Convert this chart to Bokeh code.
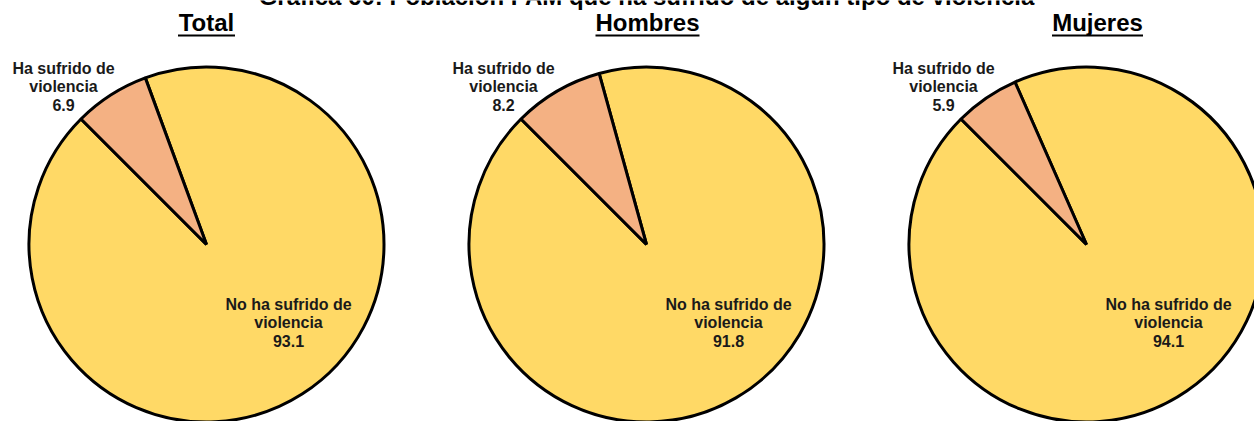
from bokeh.plotting import figure
from bokeh.models import Range1d, ColumnDataSource
from bokeh.core.properties import value
from bokeh.embed import file_html
from bokeh.resources import INLINE

# ---- data ----
title_text = "Gráfica 60: Población PAM que ha sufrido de algún tipo de violencia"
groups = ["Total", "Hombres", "Mujeres"]
ha_sufrido = [6.9, 8.2, 5.9]
no_ha_sufrido = [93.1, 91.8, 94.1]
cat_ha = ["Ha sufrido de", "violencia"]
cat_no = ["No ha sufrido de", "violencia"]

# ---- layout (picture pixel coordinates; y flipped) ----
W, H = 1254, 421
p = figure(width=W, height=H, output_backend="svg", toolbar_location=None,
           x_range=Range1d(0, W), y_range=Range1d(-H, 0),
           min_border=0, outline_line_color=None)
p.axis.visible = False
p.grid.visible = False
p.background_fill_color = "white"

FONT = value("Liberation Sans")
YELLOW = "#FFD966"
PEACH = "#F4B183"
TXT = "#1a1a1a"


def base(b, size):
    # anchor so that the rendered baseline lands at pixel row b
    return -(b - 0.42 * size)


cx0, dx, cy = 206, 440, 244
R = 177.5
first_angle = 135.0  # boundary at 45 deg CCW from 12 o'clock

# title (top cut off as in the reference)
p.text(x=[646], y=[base(6, 24)], text=[title_text], text_font=FONT,
       text_font_style="bold", text_font_size="24px", text_align="center",
       text_baseline="alphabetic", text_color="black")

sub_cx = [206, 647, 1097]
sub_w = [57, 104, 91]
for i, g in enumerate(groups):
    cx = cx0 + i * dx
    ha, no = ha_sufrido[i], no_ha_sufrido[i]
    start_ha = first_angle - 360 * ha / 100.0
    end_no = first_angle + 360 * no / 100.0
    src = ColumnDataSource(dict(
        x=[cx, cx], y=[-cy, -cy],
        start=[first_angle, start_ha],
        end=[end_no, first_angle],
        color=[YELLOW, PEACH]))
    p.wedge(x="x", y="y", radius=R, start_angle="start", end_angle="end",
            start_angle_units="deg", end_angle_units="deg",
            fill_color="color", line_color="black",
            line_width=3, source=src)

    # subtitle with underline
    p.text(x=[sub_cx[i]], y=[base(32, 24)], text=[g], text_font=FONT,
           text_font_style="bold", text_font_size="24px", text_align="center",
           text_baseline="alphabetic", text_color="black")
    p.segment(x0=[sub_cx[i] - sub_w[i] / 2], x1=[sub_cx[i] + sub_w[i] / 2],
              y0=[-35], y1=[-35], line_color="black", line_width=2)

    # "Ha sufrido" label
    lines_ha = cat_ha + [f"{ha:.1f}"]
    for k, t in enumerate(lines_ha):
        p.text(x=[cx - 143], y=[base(75 + 18 * k, 16)], text=[t], text_font=FONT,
               text_font_style="bold", text_font_size="16px", text_align="center",
               text_baseline="alphabetic", text_color=TXT)
    # "No ha sufrido" label
    lines_no = cat_no + [f"{no:.1f}"]
    for k, t in enumerate(lines_no):
        p.text(x=[cx + 82], y=[base(311 + 18 * k, 16)], text=[t], text_font=FONT,
               text_font_style="bold", text_font_size="16px", text_align="center",
               text_baseline="alphabetic", text_color=TXT)

open("out.html", "w").write(file_html(p, INLINE))
